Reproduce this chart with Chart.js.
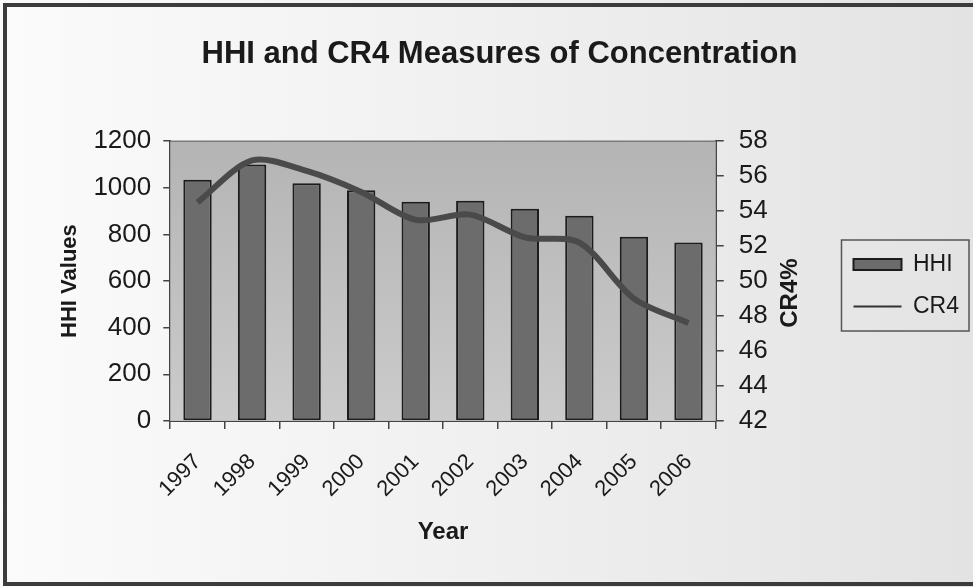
<!DOCTYPE html>
<html>
<head>
<meta charset="utf-8">
<script src="https://cdn.jsdelivr.net/npm/chart.js@4.4.1/dist/chart.umd.min.js"></script>
<style>
  html, body { margin: 0; padding: 0; }
  body {
    width: 973px; height: 587px; overflow: hidden; position: relative;
    background: linear-gradient(to right, #fbfbfb 0%, #f1f1f1 45%, #e3e3e3 100%);
  }
  .frame {
    position: absolute; left: 3px; top: 3px; width: 1000px; height: 575px;
    border: 4px solid #3c3c3c; border-right: none;
  }
  .wrap { position: absolute; left: 0; top: 0; width: 973px; height: 587px; }
</style>
</head>
<body>
<div class="frame"></div>
<div class="wrap"><canvas id="chart"></canvas></div>
<script>
const years = ["1997", "1998", "1999", "2000", "2001", "2002", "2003", "2004", "2005", "2006"];
const hhiValues = [1035, 1100, 1020, 990, 940, 945, 910, 880, 790, 765];
const cr4Values = [54.5, 56.9, 56.3, 55.1, 53.5, 53.8, 52.5, 52.2, 49.0, 47.6];
const hhiTicks = [0, 200, 400, 600, 800, 1000, 1200];
const cr4Ticks = [42, 44, 46, 48, 50, 52, 54, 56, 58];

const FONT = "'Liberation Sans', Arial, sans-serif";
Chart.defaults.font.family = FONT;
Chart.defaults.color = "#1a1a1a";

// grey plot area with darker top
const plotBackground = {
  id: "plotBackground",
  beforeDatasetsDraw(chart) {
    const { ctx, chartArea: a } = chart;
    const g = ctx.createLinearGradient(0, a.top, 0, a.bottom);
    g.addColorStop(0, "#b4b4b4");
    g.addColorStop(1, "#cbcbcb");
    ctx.save();
    ctx.fillStyle = g;
    ctx.fillRect(a.left, a.top, a.right - a.left, a.bottom - a.top);
    ctx.strokeStyle = "#7a7a7a";
    ctx.lineWidth = 1.5;
    ctx.beginPath();
    ctx.moveTo(a.left, a.top);
    ctx.lineTo(a.right, a.top);
    ctx.stroke();
    ctx.restore();
  }
};

// right axis title reads bottom-to-top, plus the framed legend
const extras = {
  id: "extras",
  afterLayout(chart) {
    // nudge the legend a little above the centre of the plot
    chart.legend.top -= 6;
    chart.legend.bottom -= 6;
  },
  afterDraw(chart) {
    const { ctx } = chart;
    const a = chart.chartArea;
    ctx.save();
    ctx.font = "bold 24px " + FONT;
    ctx.fillStyle = "#1a1a1a";
    ctx.textAlign = "center";
    ctx.textBaseline = "middle";
    ctx.translate(a.right + 75, (a.top + a.bottom) / 2 + 12);
    ctx.rotate(-Math.PI / 2);
    ctx.fillText("CR4%", 0, 0);
    ctx.restore();

    const boxes = chart.legend.legendHitBoxes;
    if (!boxes || !boxes.length) return;
    let l = Infinity, t = Infinity, r = -Infinity, b = -Infinity;
    boxes.forEach(h => {
      l = Math.min(l, h.left); t = Math.min(t, h.top);
      r = Math.max(r, h.left + h.width); b = Math.max(b, h.top + h.height);
    });
    ctx.save();
    ctx.strokeStyle = "#555";
    ctx.lineWidth = 1.5;
    ctx.strokeRect(l - 12, t - 13, r - l + 22, b - t + 26);
    ctx.restore();
  }
};

new Chart(document.getElementById("chart"), {
  type: "bar",
  data: {
    labels: years,
    datasets: [
      {
        type: "line",
        label: "CR4",
        data: cr4Values,
        yAxisID: "y1",
        borderColor: "#4a4a4a",
        borderWidth: 6,
        pointRadius: 0,
        tension: 0.3,
        fill: false
      },
      {
        type: "bar",
        label: "HHI",
        data: hhiValues,
        yAxisID: "y",
        backgroundColor: "#6c6c6c",
        borderColor: "#1c1c1c",
        borderWidth: 2,
        borderSkipped: false,
        barPercentage: 0.52,
        categoryPercentage: 1
      }
    ]
  },
  options: {
    responsive: true,
    maintainAspectRatio: false,
    animation: false,
    layout: { padding: { left: 30, right: 4, top: 36, bottom: 40 } },
    plugins: {
      title: {
        display: true,
        text: "HHI and CR4 Measures of Concentration",
        font: { size: 31, weight: "bold" },
        color: "#1a1a1a",
        padding: { top: 0, bottom: 68 }
      },
      legend: {
        position: "right",
        labels: {
          font: { size: 23 },
          color: "#1a1a1a",
          padding: 19,
          usePointStyle: true,
          pointStyleWidth: 48,
          boxHeight: 11,
          sort: (a, b) => b.datasetIndex - a.datasetIndex,
          generateLabels(chart) {
            const items = Chart.defaults.plugins.legend.labels.generateLabels(chart);
            items.forEach(it => {
              if (it.text === "CR4") {
                it.pointStyle = "line";
                it.lineWidth = 2;
                it.strokeStyle = "#333";
              } else {
                it.pointStyle = "rect";
                it.lineWidth = 2;
              }
            });
            return items;
          }
        }
      },
      tooltip: { enabled: false }
    },
    scales: {
      x: {
        offset: true,
        grid: { offset: true, drawOnChartArea: false, tickLength: 8, color: "#444", lineWidth: 1.5 },
        border: { color: "#444", width: 2 },
        ticks: { minRotation: 45, maxRotation: 45, padding: 20, font: { size: 22 }, color: "#1a1a1a" },
        title: { display: true, text: "Year", font: { size: 24, weight: "bold" }, color: "#1a1a1a", padding: { top: -4, bottom: 0 } }
      },
      y: {
        position: "left",
        min: hhiTicks[0],
        max: hhiTicks[hhiTicks.length - 1],
        afterBuildTicks: s => { s.ticks = hhiTicks.map(v => ({ value: v })); },
        grid: { drawOnChartArea: false, tickLength: 7, color: "#444", lineWidth: 1.5 },
        border: { color: "#444", width: 2 },
        ticks: { autoSkip: false, font: { size: 26 }, color: "#1a1a1a", padding: 12, callback: v => String(v) },
        title: { display: true, text: "HHI Values", font: { size: 22, weight: "bold" }, color: "#1a1a1a", padding: { top: 27, bottom: -2 } }
      },
      y1: {
        position: "right",
        min: cr4Ticks[0],
        max: cr4Ticks[cr4Ticks.length - 1],
        afterBuildTicks: s => { s.ticks = cr4Ticks.map(v => ({ value: v })); },
        grid: { drawOnChartArea: false, tickLength: 8, color: "#444", lineWidth: 1.5 },
        border: { color: "#444", width: 2 },
        ticks: { autoSkip: false, font: { size: 26 }, color: "#1a1a1a", padding: 15, callback: v => String(v) },
        title: { display: true, text: "CR4%", font: { size: 24, weight: "bold" }, color: "rgba(0,0,0,0)", padding: { top: 2, bottom: 21 } }
      }
    }
  },
  plugins: [plotBackground, extras]
});
</script>
</body>
</html>
